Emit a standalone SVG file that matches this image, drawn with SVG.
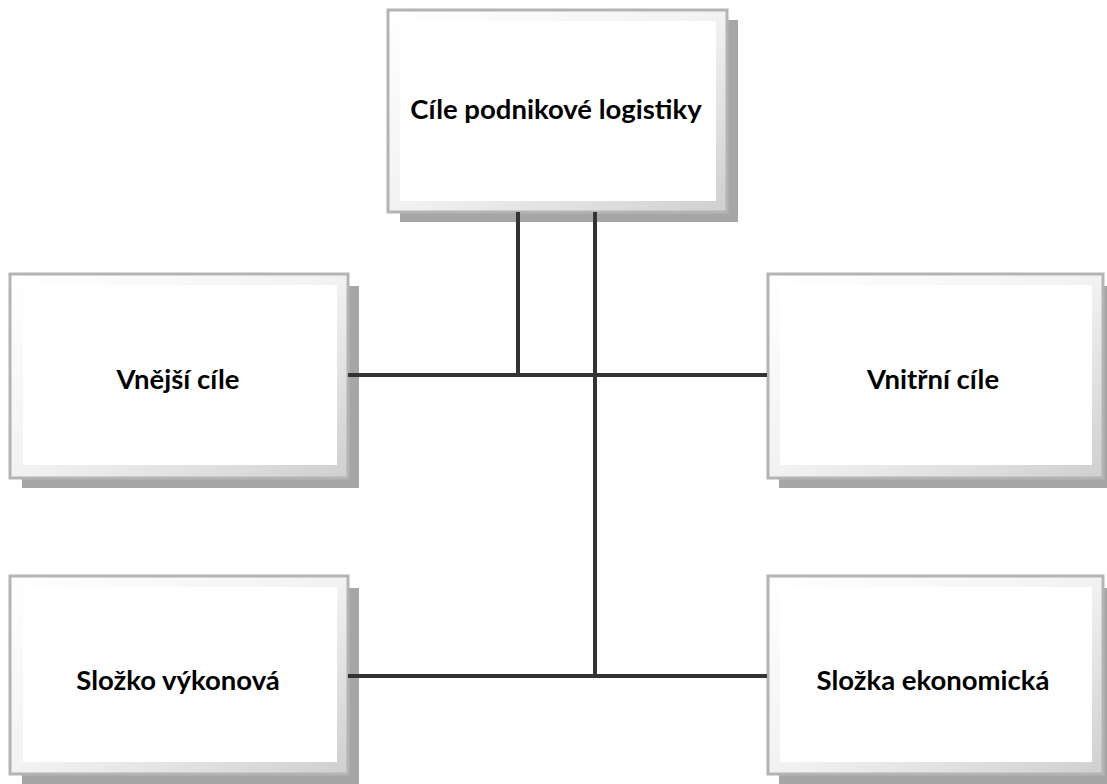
<svg xmlns="http://www.w3.org/2000/svg" width="1107" height="784" viewBox="0 0 1107 784">
<style>
.shadow{fill:#a6a6a6}
.outer{fill:url(#bevel);stroke:#b4b4b4;stroke-width:3}
.inner{fill:#ffffff}
.lbl{font-family:Lato,"Open Sans",sans-serif;font-weight:bold;font-size:27.5px;fill:#000;text-anchor:middle}
.con{stroke:#333333;stroke-width:4;fill:none}
</style>
<defs>
<linearGradient id="bevel" x1="0" y1="0" x2="1" y2="1">
<stop offset="0" stop-color="#ffffff"/>
<stop offset="0.5" stop-color="#f2f2f2"/>
<stop offset="1" stop-color="#cfcfcf"/>
</linearGradient>
</defs>
<rect width="1107" height="784" fill="#ffffff"/>
<g id="n-top">
<rect class="shadow" x="400" y="20" width="338" height="202"/>
<rect class="outer" x="388" y="10" width="339" height="202"/>
<rect class="inner" x="400" y="21" width="316" height="180"/>
<text class="lbl" x="556" y="119">Cíle podnikové logistiky</text>
</g>
<g id="n-vnejsi">
<rect class="shadow" x="22" y="286" width="337" height="202"/>
<rect class="outer" x="10" y="274" width="338" height="204"/>
<rect class="inner" x="23" y="285" width="314" height="180"/>
<text class="lbl" x="178" y="389">Vnější cíle</text>
</g>
<g id="n-vnitrni">
<rect class="shadow" x="779" y="286" width="328" height="202"/>
<rect class="outer" x="768" y="274" width="335" height="204"/>
<rect class="inner" x="780" y="285" width="312" height="180"/>
<text class="lbl" x="933" y="389">Vnitřní cíle</text>
</g>
<g id="n-vykonova">
<rect class="shadow" x="22" y="588" width="337" height="196"/>
<rect class="outer" x="10" y="576" width="338" height="198"/>
<rect class="inner" x="23" y="587" width="314" height="175"/>
<text class="lbl" x="178" y="690">Složko výkonová</text>
</g>
<g id="n-ekonomicka">
<rect class="shadow" x="779" y="588" width="328" height="196"/>
<rect class="outer" x="768" y="576" width="335" height="198"/>
<rect class="inner" x="780" y="587" width="312" height="175"/>
<text class="lbl" x="933" y="690">Složka ekonomická</text>
</g>
<g id="connectors">
<path class="con" d="M518 212 V375"/>
<path class="con" d="M348 375 H767"/>
<path class="con" d="M595 212 V676"/>
<path class="con" d="M348 676 H767"/>
</g>
</svg>
